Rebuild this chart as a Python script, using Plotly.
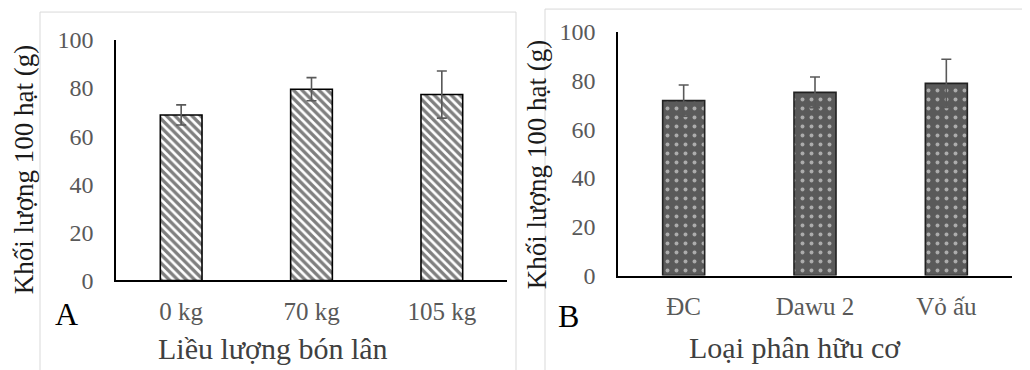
import plotly.graph_objects as go

# ---- data ----
a_categories = ["0 kg", "70 kg", "105 kg"]
a_values = [68.8, 79.5, 77.3]
a_errors = [4.2, 4.8, 9.8]

b_categories = ["ĐC", "Dawu 2", "Vỏ ấu"]
b_values = [71.8, 75.2, 78.9]
b_errors = [6.4, 6.3, 9.9]

y_ticks = [0, 20, 40, 60, 80, 100]

W, H = 1030, 370
FONT = "Liberation Serif"
GRAY = "#595959"

# mapping from target screen pixels to paper fractions (measured for this page)
X_OFF = 8
Y_OFF, Y_SPAN = 19, 346

def px(x):
    return (x - X_OFF) / W

def py(y):
    return 1 - (y - Y_OFF) / Y_SPAN

fig = go.Figure()

fig.add_trace(go.Bar(
    x=a_categories, y=a_values, width=0.32,
    marker=dict(color="white", line=dict(color="black", width=1.6),
                pattern=dict(shape="\\", fgcolor="black", bgcolor="white",
                             size=6, solidity=0.55)),
    error_y=dict(type="data", array=a_errors, visible=True,
                 color=GRAY, thickness=1.6, width=5),
    xaxis="x", yaxis="y", showlegend=False,
))

fig.add_trace(go.Bar(
    x=b_categories, y=b_values, width=0.32,
    marker=dict(color="#555555", line=dict(color="#222222", width=1.6),
                pattern=dict(shape=".", fgcolor="white", bgcolor="#5a5a5a",
                             size=9, solidity=0.15)),
    error_y=dict(type="data", array=b_errors, visible=True,
                 color=GRAY, thickness=1.6, width=5),
    xaxis="x2", yaxis="y2", showlegend=False,
))

xcommon = dict(showline=True, linecolor="black", linewidth=1.6, ticks="",
               showgrid=False, zeroline=False, fixedrange=True,
               tickfont=dict(family=FONT, size=25, color=GRAY),
               ticklabelstandoff=8)
ycommon = dict(showline=True, linecolor="black", linewidth=1.6, ticks="",
               showgrid=False, zeroline=False, range=[0, 100],
               tickvals=y_ticks, fixedrange=True,
               tickfont=dict(family=FONT, size=24, color=GRAY),
               ticklabelstandoff=16)

def label(text, x, y, size, color, angle=0):
    return dict(text=text, xref="paper", yref="paper", x=px(x), y=py(y),
                xanchor="center", yanchor="middle", showarrow=False,
                textangle=angle, font=dict(family=FONT, size=size, color=color))

fig.update_layout(
    width=W, height=H,
    margin=dict(l=0, r=0, t=0, b=0),
    paper_bgcolor="white", plot_bgcolor="white",
    xaxis=dict(domain=[px(116), px(507)], anchor="y", **xcommon),
    yaxis=dict(domain=[py(280), py(38)], anchor="x", **ycommon),
    xaxis2=dict(domain=[px(618), px(1012)], anchor="y2", **xcommon),
    yaxis2=dict(domain=[py(275), py(30)], anchor="x2", **ycommon),
    shapes=[
        dict(type="rect", xref="paper", yref="paper",
             x0=px(40), x1=px(516), y0=-0.05, y1=py(10),
             line=dict(color="#d9d9d9", width=1), layer="below"),
        dict(type="rect", xref="paper", yref="paper",
             x0=px(545), x1=1.02, y0=-0.05, y1=py(7),
             line=dict(color="#d9d9d9", width=1), layer="below"),
    ],
    annotations=[
        label("Liều lượng bón lân", 273, 348, 30, "#404040"),
        label("Loại phân hữu cơ", 795, 347, 30, "#404040"),
        label("Khối lượng 100 hạt (g)", 24, 169, 27, "#1a1a1a", -90),
        label("Khối lượng 100 hạt (g)", 537, 164, 27, "#1a1a1a", -90),
        label("A", 66, 314, 32, "black"),
        label("B", 568, 316, 32, "black"),
    ],
)

fig.write_html("out.html")
